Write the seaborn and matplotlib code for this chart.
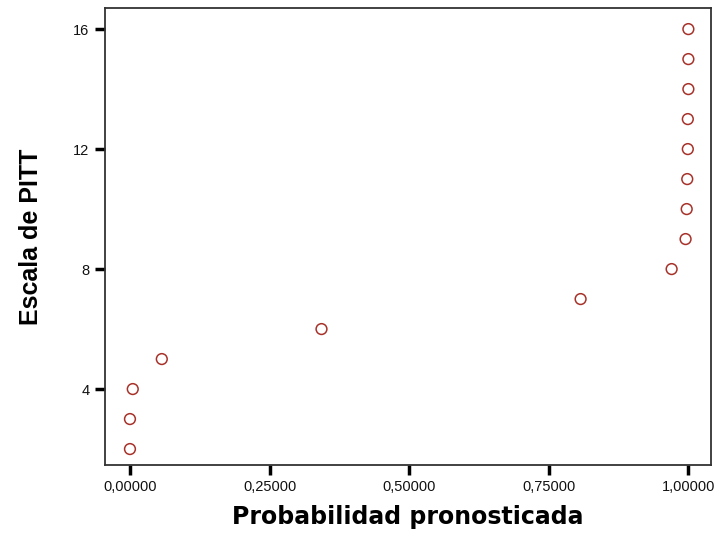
import numpy as np
import pandas as pd
from matplotlib import pyplot as plt
import seaborn as sns

# predicted probability vs PITT scale
prob = [0.0, 0.0, 0.005, 0.057, 0.343, 0.807, 0.970,
        0.995, 0.997, 0.998, 0.999, 0.999, 1.0, 1.0, 1.0]
pitt = [2, 3, 4, 5, 6, 7, 8, 9, 10, 11, 12, 13, 14, 15, 16]
x_ticks = [0.0, 0.25, 0.5, 0.75, 1.0]
x_labels = ["0,00000", "0,25000", "0,50000", "0,75000", "1,00000"]
y_ticks = [4, 8, 12, 16]

df = pd.DataFrame({"prob": prob, "pitt": pitt})

sns.set_style("white")
plt.rcParams["font.family"] = ["Liberation Sans", "DejaVu Sans"]

fig = plt.figure(figsize=(7.23, 5.4), dpi=100)
ax = fig.add_axes([0.145, 0.139, 0.838, 0.846])
sns.scatterplot(data=df, x="prob", y="pitt", ax=ax, s=60,
                facecolor="none", edgecolor="#a8322a", linewidth=1.1)

ax.set_xlim(-0.045, 1.04)
ax.set_ylim(1.47, 16.7)
ax.set_xticks(x_ticks)
ax.set_xticklabels(x_labels, fontsize=10.5)
ax.set_yticks(y_ticks)
ax.set_yticklabels([str(v) for v in y_ticks], fontsize=10.5)
ax.tick_params(axis="both", direction="out", length=7, width=2.5, color="black",
               pad=4, bottom=True, left=True, labelcolor="#111111")

for sp in ax.spines.values():
    sp.set_color("#333333")
    sp.set_linewidth(1.3)

ax.set_xlabel("Probabilidad pronosticada", fontsize=17, fontweight="bold", labelpad=8,
              family=["DejaVu Sans"], color="black")
ax.set_ylabel("Escala de PITT", fontsize=18, fontweight="bold", labelpad=22,
              color="black")

fig.savefig("out.png", dpi=100)
